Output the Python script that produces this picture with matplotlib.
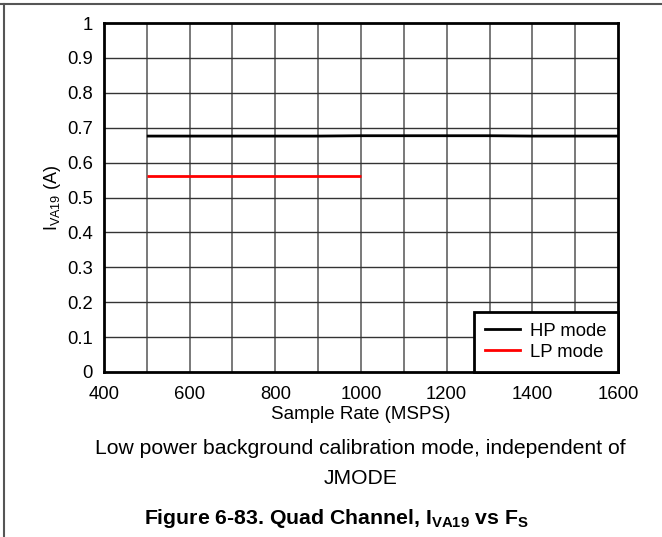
import numpy as np
import matplotlib
matplotlib.use('Agg')
import matplotlib.pyplot as plt
from matplotlib.lines import Line2D

plt.rcParams['font.family'] = ['Liberation Sans', 'DejaVu Sans']

# Datos
hp_fs = [500, 600, 700, 800, 900, 1000, 1100, 1200, 1300, 1400, 1500, 1600]
hp_i = [0.676, 0.676, 0.676, 0.676, 0.676, 0.677, 0.677, 0.677, 0.677, 0.676, 0.676, 0.676]
lp_fs = [500, 600, 700, 800, 900, 1000]
lp_i = [0.563, 0.563, 0.563, 0.563, 0.563, 0.563]

x_ticks = [400, 600, 800, 1000, 1200, 1400, 1600]
y_ticks = [0, 0.1, 0.2, 0.3, 0.4, 0.5, 0.6, 0.7, 0.8, 0.9, 1]
y_labels = ['0', '0.1', '0.2', '0.3', '0.4', '0.5', '0.6', '0.7', '0.8', '0.9', '1']

fig = plt.figure(figsize=(6.62, 5.37), dpi=100)
ax = fig.add_axes([104 / 662, 1 - 372 / 537, 514 / 662, 349 / 537])

# Cuadricula cada 100 MSPS y cada 0.1 A
for xv in np.arange(500, 1600, 100):
    ax.axvline(xv, color='#555555', lw=1.1, zorder=1)
for yv in np.arange(0.1, 1.0, 0.1):
    ax.axhline(yv, color='#333333', lw=1.0, zorder=1)

ax.plot(hp_fs, hp_i, color='black', lw=2, zorder=3, solid_capstyle='butt')
ax.plot(lp_fs, lp_i, color='red', lw=2, zorder=3, solid_capstyle='butt')

ax.set_xlim(400, 1600)
ax.set_ylim(0, 1)
ax.set_xticks(x_ticks)
ax.set_yticks(y_ticks)
ax.set_yticklabels(y_labels)
ax.tick_params(length=0, labelsize=13.3)
ax.tick_params(axis='x', pad=10)
ax.tick_params(axis='y', pad=8)
for s in ax.spines.values():
    s.set_linewidth(2)

ax.set_xlabel('Sample Rate (MSPS)', fontsize=13.5, labelpad=2)
ax.set_ylabel(r'I$_{\mathregular{VA19}}$ (A)', fontsize=13, labelpad=3)

handles = [Line2D([], [], color='black', lw=2), Line2D([], [], color='red', lw=2)]
leg = ax.legend(handles, ['HP mode', 'LP mode'], loc='lower right', fontsize=13.3,
                fancybox=False, framealpha=1, edgecolor='black', borderaxespad=0,
                handlelength=1.9, handletextpad=0.55, labelspacing=0.22,
                borderpad=0.6)
leg.get_frame().set_linewidth(2)

fig.text(0.545, 1 - 448 / 537, 'Low power background calibration mode, independent of',
         ha='center', va='center', fontsize=15.2)
fig.text(0.545, 1 - 479 / 537, 'JMODE', ha='center', va='center', fontsize=15.2)
fig.text(0.509, 1 - 518 / 537,
         r'Figure 6-83. Quad Channel, I$_{\mathregular{VA19}}$ vs F$_{\mathregular{S}}$',
         ha='center', va='center', fontsize=15.3, fontweight='bold')

# Marco de la pagina
fig.add_artist(Line2D([0, 1], [1 - 4 / 537, 1 - 4 / 537], color='#555555', lw=1.5))
fig.add_artist(Line2D([4 / 662, 4 / 662], [0, 1 - 4 / 537], color='#555555', lw=1.5))

fig.savefig('out.png', dpi=100)
